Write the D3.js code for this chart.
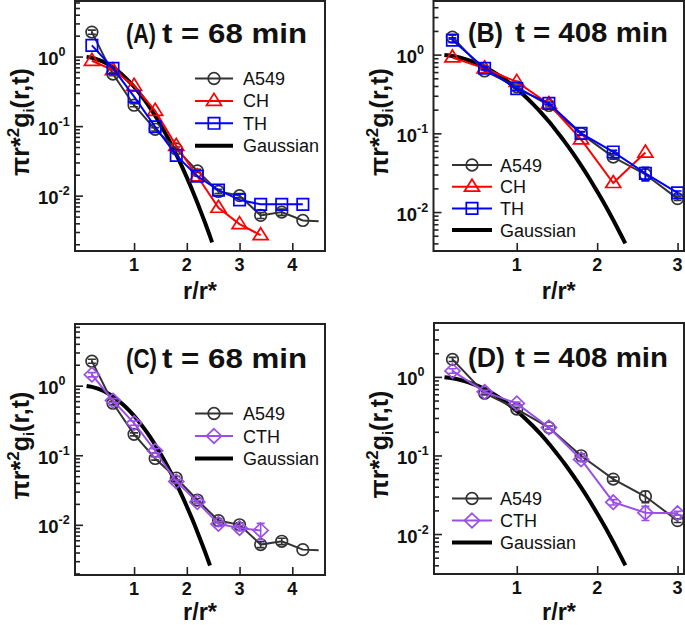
<!DOCTYPE html>
<html><head><meta charset="utf-8">
<script src="https://cdn.jsdelivr.net/npm/d3@7"></script>
<style>html,body{margin:0;padding:0;background:#fff;}svg{display:block;}</style>
</head><body>
<svg id="chart" width="685" height="625"></svg>
<script>
// ---------- data ----------
const r68 = [0.2, 0.6, 1.0, 1.4, 1.8, 2.2, 2.6, 3.0, 3.4, 3.8, 4.2, 4.5];
const a549_68 = [2.25, 0.56, 0.20, 0.090, 0.047, 0.0227, 0.0115, 0.0100, 0.0052, 0.0058, 0.0044, 0.0043];
const a549_68_err = [0.15, 0.03, 0.01, 0.005, 0.003, 0.0012, 0.0008, 0.0007, 0.0005, 0.0006, 0, 0];
const r68CH = [0.2, 0.6, 1.0, 1.4, 1.8, 2.2, 2.6, 3.0, 3.4];
const ch_68 = [0.87, 0.64, 0.38, 0.166, 0.052, 0.019, 0.0067, 0.0039, 0.0027];
const r68TH = [0.2, 0.6, 1.0, 1.4, 1.8, 2.2, 2.6, 3.0, 3.4, 3.8, 4.2];
const th_68 = [1.45, 0.68, 0.265, 0.098, 0.038, 0.019, 0.012, 0.0087, 0.0075, 0.0075, 0.0075];
const r68CTH = [0.2, 0.6, 1.0, 1.4, 1.8, 2.2, 2.6, 3.0, 3.4];
const cth_68 = [1.44, 0.61, 0.29, 0.116, 0.042, 0.0212, 0.0103, 0.0090, 0.0083];
const cth_68_err = [0.1, 0.04, 0.02, 0.008, 0.002, 0.001, 0.0008, 0.0008, 0.0022];

const r408 = [0.2, 0.6, 1.0, 1.4, 1.8, 2.2, 2.6, 3.0];
const a549_408 = [1.67, 0.62, 0.39, 0.226, 0.099, 0.050, 0.030, 0.0148];
const a549_408_err = [0.1, 0.03, 0.02, 0.01, 0.005, 0.003, 0.005, 0.0008];
const r408CH = [0.2, 0.6, 1.0, 1.4, 1.8, 2.2, 2.6];
const ch_408 = [0.92, 0.67, 0.45, 0.236, 0.084, 0.0234, 0.057];
const th_408 = [1.53, 0.67, 0.37, 0.24, 0.100, 0.058, 0.031, 0.0175];
const th_408_err = [0.1, 0.03, 0.02, 0.01, 0.005, 0.003, 0.006, 0.001];
const cth_408 = [1.19, 0.645, 0.46, 0.227, 0.089, 0.0254, 0.0187, 0.0184];
const cth_408_err = [0.08, 0.03, 0.02, 0.01, 0.005, 0.002, 0.0038, 0.001];

// Gaussian reference curve
const gaussR = [0.1, 0.2, 0.3, 0.4, 0.5, 0.6, 0.7, 0.8, 0.9, 1.0, 1.1, 1.2, 1.3, 1.4, 1.5, 1.6, 1.7, 1.8, 1.9, 2.0, 2.1, 2.2, 2.3, 2.35, 2.4, 2.44, 2.48];
const gaussV = [0.990, 0.961, 0.914, 0.852, 0.779, 0.698, 0.613, 0.527, 0.445, 0.368, 0.298, 0.237, 0.185, 0.141, 0.105, 0.0773, 0.0556, 0.0392, 0.0271, 0.0183, 0.0122, 0.00791, 0.00504, 0.0040, 0.00315, 0.00260, 0.00213];

const xTicks68 = [1, 2, 3, 4];
const xTicks408 = [1, 2, 3];
const yMajor = [0.01, 0.1, 1];
const yExp = ["-2", "-1", "0"];

// ---------- styles ----------
const colors = {A549: "#333333", CH: "#ff0000", TH: "#0000ff", CTH: "#9a4fe8", Gaussian: "#000000"};
const shapes = {A549: "circle", CH: "triangle", TH: "square", CTH: "diamond"};

function zip(xs, ys, es) { return xs.map((x, i) => ({x, y: ys[i], e: es ? es[i] : 0, m: true})); }
function noTailMarker(arr) { arr[arr.length - 1].m = false; return arr; }

const panels = [
  {letter: "(A)", time: "t = 68 min", left: 75, right: 325, top: 1, bottom: 251,
   xd: [-0.12, 4.62], yd: [0.0016, 6.3], xticks: xTicks68, gEnd: 2.48, xlabY: 299,
   titleL: [126, 30], titleT: [162, 145], titleY: 43,
   legend: {x1: 195, x2: 233, tx: 243, y: 78.5, dy: 22.4},
   series: [
     {name: "A549", pts: noTailMarker(zip(r68, a549_68, a549_68_err))},
     {name: "CH", pts: zip(r68CH, ch_68)},
     {name: "TH", pts: zip(r68TH, th_68)}
   ]},
  {letter: "(B)", time: "t = 408 min", left: 433.5, right: 684, top: 1, bottom: 251,
   xd: [-0.035, 3.08], yd: [0.0032, 4.8], xticks: xTicks408, gEnd: 2.35, xlabY: 299,
   titleL: [468, 35], titleT: [515, 153], titleY: 42,
   legend: {x1: 452, x2: 492, tx: 500, y: 165, dy: 21.7},
   series: [
     {name: "A549", pts: zip(r408, a549_408, a549_408_err)},
     {name: "CH", pts: zip(r408CH, ch_408)},
     {name: "TH", pts: zip(r408, th_408, th_408_err)}
   ]},
  {letter: "(C)", time: "t = 68 min", left: 75, right: 325, top: 324, bottom: 575,
   xd: [-0.12, 4.62], yd: [0.0019, 7.7], xticks: xTicks68, gEnd: 2.44, xlabY: 619.5,
   titleL: [126, 31], titleT: [162, 145], titleY: 368,
   legend: {x1: 195, x2: 233, tx: 243, y: 413.5, dy: 22.5},
   series: [
     {name: "A549", pts: noTailMarker(zip(r68, a549_68, a549_68_err))},
     {name: "CTH", pts: zip(r68CTH, cth_68, cth_68_err)}
   ]},
  {letter: "(D)", time: "t = 408 min", left: 434, right: 684, top: 323, bottom: 574,
   xd: [-0.03, 3.08], yd: [0.0031, 4.85], xticks: xTicks408, gEnd: 2.35, xlabY: 619.5,
   titleL: [468, 37], titleT: [515, 153], titleY: 367,
   legend: {x1: 452, x2: 492, tx: 500, y: 498.5, dy: 22},
   series: [
     {name: "A549", pts: zip(r408, a549_408, a549_408_err)},
     {name: "CTH", pts: zip(r408, cth_408, cth_408_err)}
   ]}
];

const svg = d3.select("#chart");
const FONT = "'Liberation Sans', Arial, sans-serif";

function markerPath(shape) {
  switch (shape) {
    case "circle": return d3.symbol(d3.symbolCircle, Math.PI * 5.8 * 5.8)();
    case "triangle": return "M0,-7.5L7.5,4.5L-7.5,4.5Z";
    case "square": return "M-5.7,-5.7H5.7V5.7H-5.7Z";
    case "diamond": return "M0,-7.2L7.5,0L0,7.2L-7.5,0Z";
  }
}

panels.forEach((p, pi) => {
  const g = svg.append("g");
  const x = d3.scaleLinear().domain(p.xd).range([p.left, p.right]);
  const y = d3.scaleLog().domain(p.yd).range([p.bottom, p.top]);
  const clipId = "clip" + pi;
  g.append("clipPath").attr("id", clipId).append("rect")
    .attr("x", p.left).attr("y", p.top).attr("width", p.right - p.left).attr("height", p.bottom - p.top);

  // y ticks (inward) via d3 axis
  const allTicks = y.ticks().filter(v => v >= p.yd[0] && v <= p.yd[1]);
  const yAxis = d3.axisRight(y).tickValues(allTicks).tickFormat("").tickSize(0).tickSizeOuter(0);
  const ya = g.append("g").attr("transform", `translate(${p.left},0)`).call(yAxis);
  ya.select(".domain").remove();
  ya.selectAll(".tick line").attr("x2", d => {
    const m = Math.abs(Math.log10(d) - Math.round(Math.log10(d))) < 1e-6;
    return m ? 8 : 5;
  }).attr("stroke", "#222").attr("stroke-width", 1.6);

  // y tick labels 10^n
  yMajor.forEach((v, i) => {
    const t = g.append("text").attr("x", p.left - 37).attr("y", y(v) + 8.5)
      .attr("font-family", FONT).attr("font-weight", "bold").attr("font-size", 18.5).attr("fill", "#111");
    t.append("tspan").text("10");
    t.append("tspan").attr("dy", -9).attr("font-size", 12.5).text(yExp[i]);
  });

  // x axis ticks (inward) and labels
  const xAxis = d3.axisTop(x).tickValues(p.xticks).tickSize(8).tickSizeOuter(0).tickFormat("");
  const xa = g.append("g").attr("transform", `translate(0,${p.bottom})`).call(xAxis);
  xa.select(".domain").remove();
  xa.selectAll(".tick line").attr("stroke", "#222").attr("stroke-width", 1.6);
  p.xticks.forEach(v => {
    g.append("text").attr("x", x(v)).attr("y", p.bottom + 19.5).attr("text-anchor", "middle")
      .attr("font-family", FONT).attr("font-weight", "bold").attr("font-size", 18).attr("fill", "#111").text(v);
  });

  // axis titles
  const cx = (p.left + p.right) / 2;
  g.append("text").attr("x", cx).attr("y", p.xlabY).attr("text-anchor", "middle")
    .attr("font-family", FONT).attr("font-weight", "bold").attr("font-size", 23.5).attr("fill", "#111")
    .text("r/r*");

  const cy = (p.top + p.bottom) / 2 - 4;
  const yl = g.append("text").attr("transform", `translate(${p.left - 46},${cy}) rotate(-90)`)
    .attr("text-anchor", "middle").attr("font-family", FONT).attr("font-weight", "bold")
    .attr("font-size", 25).attr("fill", "#111");
  yl.append("tspan").text("\u03C0r*");
  yl.append("tspan").attr("dy", -10).attr("font-size", 17).text("2");
  yl.append("tspan").attr("dy", 10).text("g");
  yl.append("tspan").attr("dy", 5).attr("font-size", 15).text("i");
  yl.append("tspan").attr("dy", -5).text("(r,t)");

  // plot contents
  const plot = g.append("g").attr("clip-path", `url(#${clipId})`);
  const line = d3.line().x(d => x(d.x)).y(d => y(d.y));

  // Gaussian
  const gpts = gaussR.map((r, i) => ({x: r, y: gaussV[i]})).filter(d => d.x <= p.gEnd + 1e-9);
  plot.append("path").datum(gpts)
    .attr("d", d3.line().x(d => x(d.x)).y(d => y(d.y)).curve(d3.curveMonotoneX))
    .attr("fill", "none").attr("stroke", "#000").attr("stroke-width", 4);

  // data series
  p.series.forEach(s => {
    const c = colors[s.name];
    plot.append("path").datum(s.pts).attr("d", line).attr("fill", "none")
      .attr("stroke", c).attr("stroke-width", 2);
    s.pts.filter(d => d.m && d.e > 0).forEach(d => {
      const y1 = y(d.y + d.e), y2 = y(Math.max(d.y - d.e, 1e-6));
      const xx = x(d.x);
      plot.append("path").attr("d", `M${xx},${y1}V${y2}M${xx - 4},${y1}H${xx + 4}M${xx - 4},${y2}H${xx + 4}`)
        .attr("stroke", c).attr("stroke-width", 1.6).attr("fill", "none");
    });
    plot.selectAll(null).data(s.pts.filter(d => d.m)).enter().append("path")
      .attr("d", markerPath(shapes[s.name]))
      .attr("transform", d => `translate(${x(d.x)},${y(d.y)})`)
      .attr("fill", "none").attr("stroke", c).attr("stroke-width", 1.7);
  });

  // frame
  g.append("rect").attr("x", p.left).attr("y", p.top).attr("width", p.right - p.left)
    .attr("height", p.bottom - p.top).attr("fill", "none").attr("stroke", "#222").attr("stroke-width", 2);

  // title
  g.append("text").attr("x", p.titleL[0]).attr("y", p.titleY).attr("textLength", p.titleL[1])
    .attr("lengthAdjust", "spacingAndGlyphs").attr("font-family", FONT).attr("font-weight", "bold")
    .attr("font-size", 28).attr("fill", "#111").text(p.letter);
  g.append("text").attr("x", p.titleT[0]).attr("y", p.titleY).attr("textLength", p.titleT[1])
    .attr("lengthAdjust", "spacingAndGlyphs").attr("font-family", FONT).attr("font-weight", "bold")
    .attr("font-size", 28).attr("fill", "#111").text(p.time);

  // legend
  const L = p.legend;
  const names = p.series.map(s => s.name).concat(["Gaussian"]);
  names.forEach((n, i) => {
    const yy = L.y + i * L.dy;
    const lg = g.append("g");
    const c = colors[n];
    lg.append("line").attr("x1", L.x1).attr("x2", L.x2).attr("y1", yy).attr("y2", yy)
      .attr("stroke", c).attr("stroke-width", n === "Gaussian" ? 4 : 2);
    if (shapes[n]) {
      lg.append("path").attr("d", markerPath(shapes[n]))
        .attr("transform", `translate(${(L.x1 + L.x2) / 2},${yy})`)
        .attr("fill", "none").attr("stroke", c).attr("stroke-width", 1.7);
    }
    lg.append("text").attr("x", L.tx).attr("y", yy + 6.5).attr("font-family", FONT)
      .attr("font-size", 18).attr("fill", "#111").text(n);
  });
});
</script>
</body></html>
